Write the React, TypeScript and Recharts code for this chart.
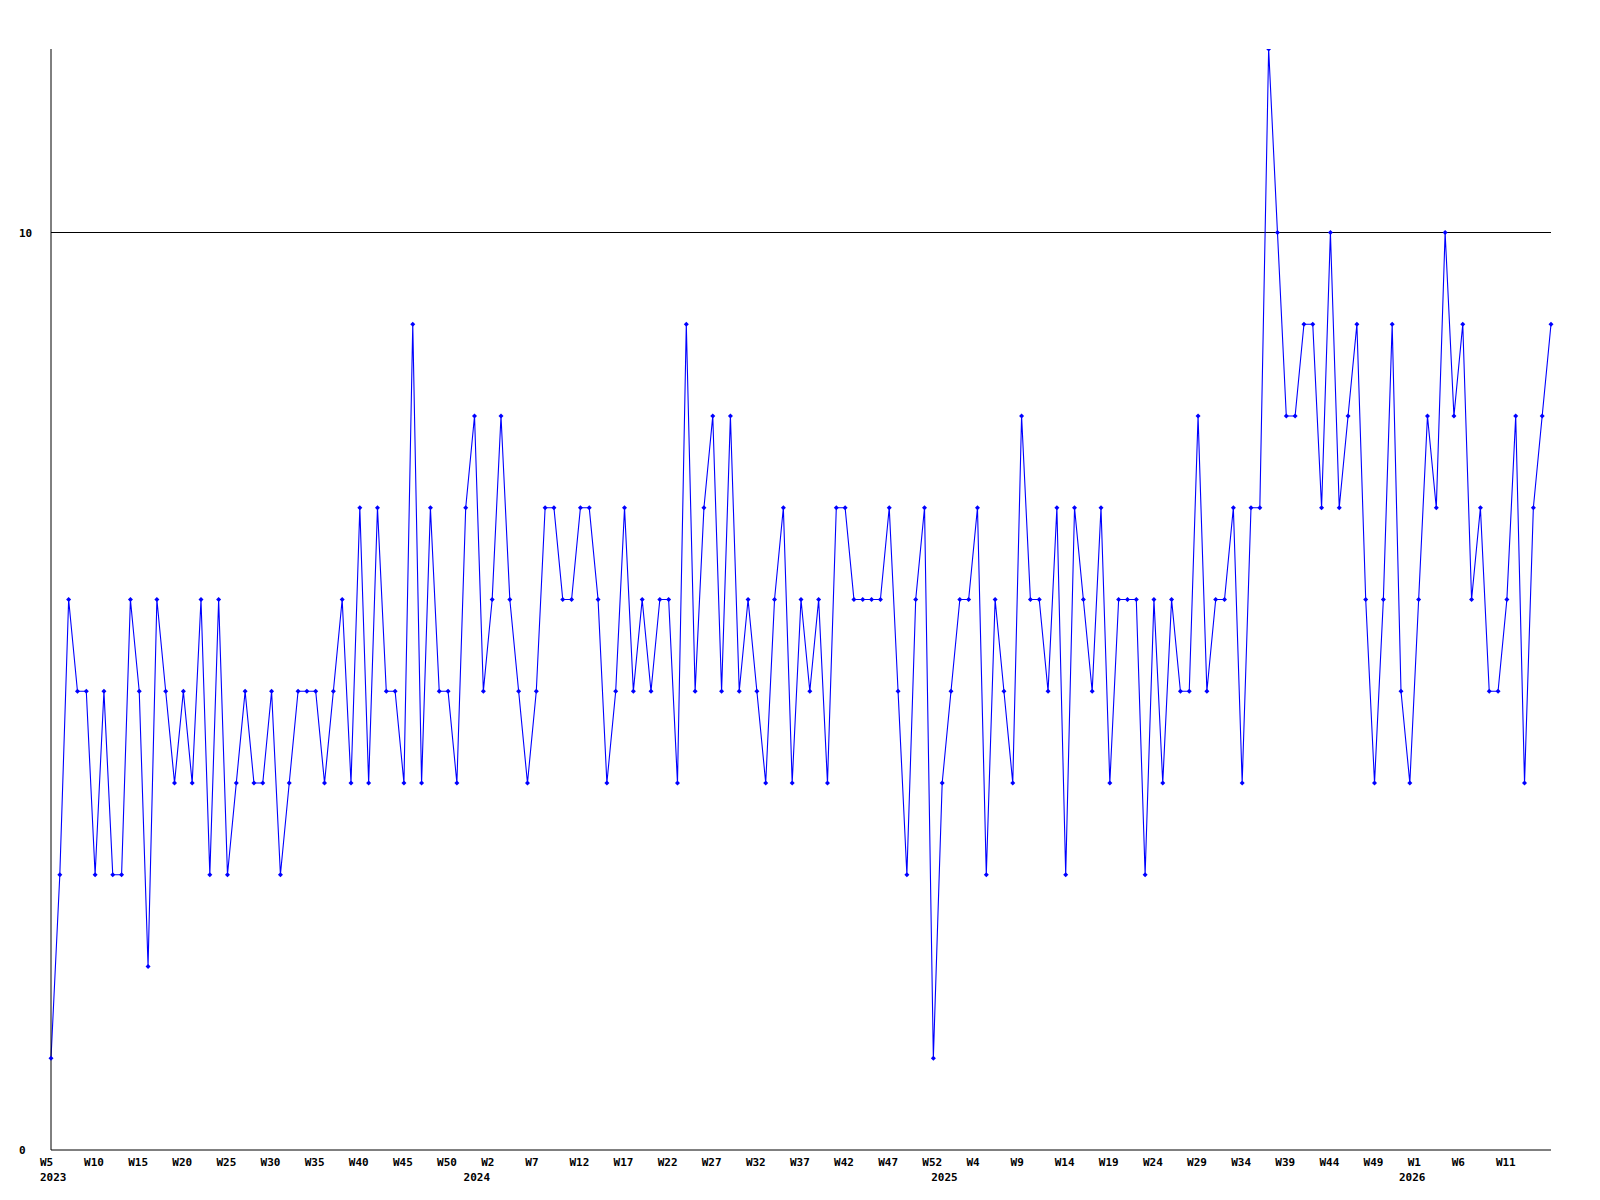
import React from 'react';
import { LineChart, Line, XAxis, YAxis, ReferenceLine } from 'recharts';

// [year, first week, last week] covered by the series
const yearRanges: [number, number, number][] = [
  [2023, 5, 53],
  [2024, 1, 53],
  [2025, 1, 53],
  [2026, 1, 16],
];

const values: number[] = [
  1, 3, 6, 5, 5, 3, 5, 3, 3, 6,
  5, 2, 6, 5, 4, 5, 4, 6, 3, 6,
  3, 4, 5, 4, 4, 5, 3, 4, 5, 5,
  5, 4, 5, 6, 4, 7, 4, 7, 5, 5,
  4, 9, 4, 7, 5, 5, 4, 7, 8, 5,
  6, 8, 6, 5, 4, 5, 7, 7, 6, 6,
  7, 7, 6, 4, 5, 7, 5, 6, 5, 6,
  6, 4, 9, 5, 7, 8, 5, 8, 5, 6,
  5, 4, 6, 7, 4, 6, 5, 6, 4, 7,
  7, 6, 6, 6, 6, 7, 5, 3, 6, 7,
  1, 4, 5, 6, 6, 7, 3, 6, 5, 4,
  8, 6, 6, 5, 7, 3, 7, 6, 5, 7,
  4, 6, 6, 6, 3, 6, 4, 6, 5, 5,
  8, 5, 6, 6, 7, 4, 7, 7, 12, 10,
  8, 8, 9, 9, 7, 10, 7, 8, 9, 6,
  4, 6, 9, 5, 4, 6, 8, 7, 10, 8,
  9, 6, 7, 5, 5, 6, 8, 4, 7, 8,
  9,
];

const yTicks = [0, 10];
const labelEvery = 5;

type Cat = { year: number; week: number };
const categories: Cat[] = [];
yearRanges.forEach(([year, from, to]) => {
  for (let w = from; w <= to; w++) categories.push({ year, week: w });
});

const data = values.map((v, i) => ({ idx: i, value: v }));

const lastIdx = values.length - 1;
const xTicks: number[] = categories
  .map((c, i) => (i % labelEvery === 0 || c.week === 1 ? i : -1))
  .filter((i) => i >= 0 && i < lastIdx);

const FONT: React.CSSProperties = {
  fontFamily: '"DejaVu Sans Mono", monospace',
  fontWeight: 'bold',
  fontSize: 11,
};

const XTick = (props: any) => {
  const { x, y, payload } = props;
  const i = payload.value as number;
  const c = categories[i];
  if (!c) return null;
  const showWeek = i % labelEvery === 0;
  const showYear = i === 0 || c.week === 1;
  return (
    <g>
      {showWeek && (
        <text x={x - 11} y={y + 16} textAnchor="start" fill="#000" style={FONT}>
          {`W${c.week}`}
        </text>
      )}
      {showYear && (
        <text
          x={i === 0 ? x - 11 : x - 6.5}
          y={y + 31}
          textAnchor={i === 0 ? 'start' : 'middle'}
          fill="#000"
          style={FONT}
        >
          {String(c.year)}
        </text>
      )}
    </g>
  );
};

const YTick = (props: any) => {
  const { x, y, payload } = props;
  return (
    <text x={x - 32} y={y + 4} textAnchor="start" fill="#000" style={FONT}>
      {String(payload.value)}
    </text>
  );
};

const Marker = (p: any) => {
  const { cx, cy, index } = p;
  if (cx == null || cy == null) return null;
  const r = 2.5;
  return (
    <path
      key={`m-${index}`}
      d={`M${cx - r},${cy} L${cx},${cy - r} L${cx + r},${cy} L${cx},${cy + r} Z`}
      fill="#0000ff"
      stroke="none"
    />
  );
};

export default function App() {
  return (
    <div style={{ position: 'absolute', left: 0, top: 0, width: 1600, height: 1200, background: '#fff' }}>
      <LineChart
        width={1600}
        height={1200}
        data={data}
        margin={{ top: 49, right: 49, bottom: 0, left: 0 }}
      >
        <XAxis
          dataKey="idx"
          type="number"
          domain={[0, lastIdx]}
          ticks={xTicks}
          interval={0}
          height={50}
          tickLine={false}
          tickSize={0}
          tickMargin={0}
          axisLine={{ stroke: '#000', strokeWidth: 1 }}
          tick={<XTick />}
          allowDecimals={false}
        />
        <YAxis
          type="number"
          domain={[0, 12]}
          ticks={yTicks}
          width={51}
          tickLine={false}
          tickSize={0}
          tickMargin={0}
          axisLine={{ stroke: '#000', strokeWidth: 1 }}
          tick={<YTick />}
          allowDataOverflow
        />
        <ReferenceLine y={10} stroke="#000" strokeWidth={1} />
        <Line
          type="linear"
          dataKey="value"
          stroke="#0000ff"
          strokeWidth={1.1}
          dot={<Marker />}
          activeDot={false}
          isAnimationActive={false}
        />
      </LineChart>
    </div>
  );
}
